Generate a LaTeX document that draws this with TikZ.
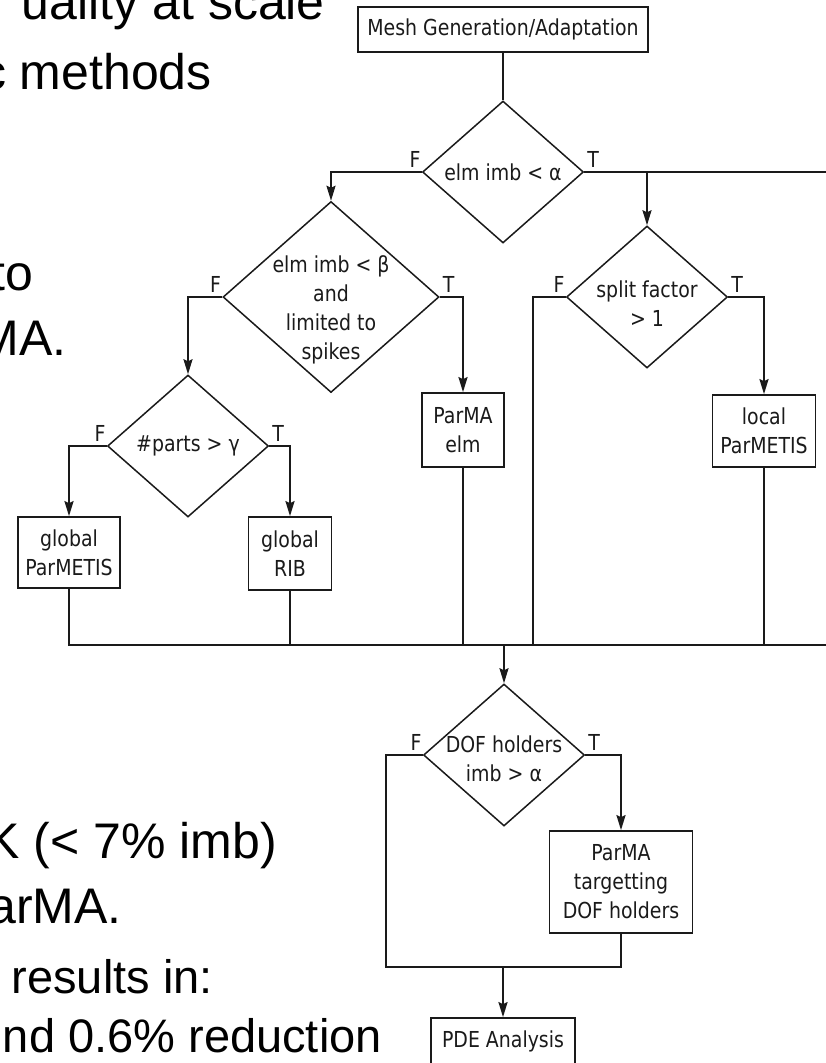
\documentclass[tikz,border=0pt]{standalone}
\usepackage{fontspec}
\usepackage{tikz}
\usetikzlibrary{arrows.meta,positioning,shapes.geometric}
\newfontfamily\slidefont{Liberation Sans}
\newfontfamily\chartfont{DejaVu Sans}[FakeStretch=0.86]
\newcommand\chartsize{\chartfont\fontsize{22}{29}\selectfont}
\newcommand\lift[1]{\rule{0pt}{#1}}
\definecolor{Ink}{HTML}{1A1A1A}

\begin{document}
\begin{tikzpicture}[x=1pt,y=-1pt,
  proc/.style={draw=Ink,fill=white,line width=1.7pt,inner sep=0pt,align=center,font=\chartsize,text=Ink},
  decision/.style={draw=Ink,fill=white,diamond,aspect=1.13,line width=1.5pt,inner sep=-8pt,align=center,font=\chartsize,text=Ink,minimum width=161pt,minimum height=142pt},
  tf/.style={font=\chartsize,text=Ink,inner sep=0pt},
  slide/.style={font=\slidefont\fontsize{50}{60}\selectfont,inner sep=0pt,anchor=base east},
  subslide/.style={slide,font=\slidefont\fontsize{47}{56}\selectfont},
  wire/.style={draw=Ink,line width=2pt},
  arrow/.style={wire,-{Stealth[length=15pt,width=9pt,inset=2pt]}}
]
\path[use as bounding box,fill=white] (0,0) rectangle (826,1063);
\clip (0,0) rectangle (826,1063);

% slide text cut by the crop
\node[slide] (s1) at (325,19) {uality at scale};
\node[slide] (s2) at (212,89) {c methods};
\node[slide] (s3) at (33,290) {to};
\node[slide] (s4) at (67,355) {MA.};
\node[slide] (s5) at (277,858) {K (< 7\% imb)};
\node[slide] (s6) at (122,923) {arMA.};
\node[subslide] (s7) at (213,993) {results in:};
\node[subslide] (s8) at (382,1052) {nd 0.6\% reduction};

% flowchart
\node[proc,minimum width=290pt,minimum height=45pt] (mesh) at (503,29.5) {Mesh Generation/Adaptation};
\node[decision] (d1) at (503,172) {elm imb < α};
\node[decision,inner sep=-22pt,minimum width=216pt,minimum height=191pt] (d2) at (331,297) {\lift{42pt}elm imb < β\\and\\limited to\\spikes};
\node[decision] (d3) at (647,297) {\lift{29pt}split factor\\> 1};
\node[decision] (d4) at (188,446) {\#parts > γ};
\node[proc,minimum width=82pt,minimum height=74pt] (elm) at (463,430) {ParMA\\elm};
\node[proc,minimum width=103pt,minimum height=72pt] (lpm) at (764,431) {local\\ParMETIS};
\node[proc,minimum width=102pt,minimum height=71pt] (gpm) at (69,552.5) {global\\ParMETIS};
\node[proc,minimum width=83pt,minimum height=73pt] (rib) at (290,553.5) {global\\RIB};
\node[decision] (d5) at (504,755) {\lift{25pt}DOF holders\\imb > α};
\node[proc,minimum width=143pt,minimum height=102pt] (dof) at (621,882) {ParMA\\targetting\\DOF holders};
\node[proc,minimum width=144pt,minimum height=46pt] (pde) at (503,1041) {PDE Analysis};

\coordinate (topR) at (830,172);
\coordinate (bus) at (504,645);
\coordinate (busR) at (830,645);
\coordinate (loopL) at (386,967);

% branch labels
\foreach \d in {d1,d2,d3,d4,d5}{
  \node[tf,anchor=base east] (\d F) at ([xshift=-1pt,yshift=5pt]\d.west) {F};
  \node[tf,anchor=base west] (\d T) at ([xshift=3pt,yshift=5pt]\d.east) {T};
}

\draw[wire] (mesh.south) -- (d1.north);
\draw[arrow] (d1.west) -| (d2.north);
\draw[wire] (d1.east) -- (topR);
\draw[arrow] (d1.east) -| (d3.north);
\draw[arrow] (d2.west) -| (d4.north);
\draw[arrow] (d2.east) -| (elm.north);
\draw[arrow] (d3.east) -| (lpm.north);
\draw[arrow] (d4.west) -| (gpm.north);
\draw[arrow] (d4.east) -| (rib.north);

\draw[wire] (gpm.south) -- (gpm.south |- bus) -- (busR);
\draw[wire] (rib.south) -- (rib.south |- bus);
\draw[wire] (elm.south) -- (elm.south |- bus);
\draw[wire] (d3.west) -- ++(-33,0) coordinate (d3out) -- (d3out |- bus);
\draw[wire] (lpm.south) -- (lpm.south |- bus);
\draw[arrow] (bus) -- (d5.north);

\draw[arrow] (d5.east) -| (dof.north);
\draw[wire] (d5.west) -| (loopL) -| (dof.south);
\draw[arrow] (loopL -| pde.north) -- (pde.north);
\end{tikzpicture}
\end{document}
